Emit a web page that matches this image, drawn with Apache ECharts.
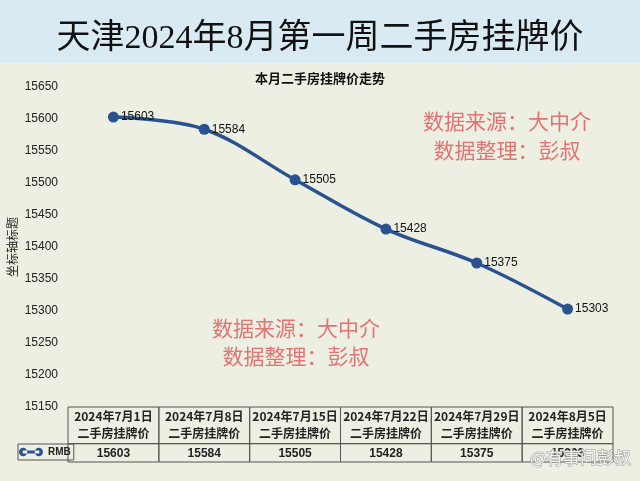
<!DOCTYPE html>
<html><head><meta charset="utf-8">
<script src="https://cdn.jsdelivr.net/npm/echarts@6/dist/echarts.min.js"></script>
<style>html,body{margin:0;padding:0;background:#ecefe1}#c{width:640px;height:481px}</style>
</head><body><div id="c"></div>
<script>
const titleText = '天津2024年8月第一周二手房挂牌价';
const subTitle = '本月二手房挂牌价走势';
const dates = ['2024年7月1日','2024年7月8日','2024年7月15日','2024年7月22日','2024年7月29日','2024年8月5日'];
const rowTitle = '二手房挂牌价';
const prices = [15603, 15584, 15505, 15428, 15375, 15303];
const seriesName = 'RMB';
const yMin = 15150, yMax = 15650, yStep = 50;
const yAxisTitle = '坐标轴标题';
const noteLine1 = '数据来源：大中介';
const noteLine2 = '数据整理：彭叔';
const watermark = '@有事问彭叔';

const CJK = '"Noto Sans CJK SC","Noto Sans",sans-serif';
const LAT = '"Liberation Sans",Arial,sans-serif';
const chart = echarts.init(document.getElementById('c'));
const lineColor = '#2a5190';

chart.setOption({
  backgroundColor: '#ecefe1',
  animation: false,
  graphic: [
    {type:'rect', left:0, top:0, shape:{width:640, height:63}, style:{fill:'#d9eaf2'}, z:-1},
    {type:'text', left:'center', top:22, style:{text:titleText, font:'34px "Liberation Serif","Noto Sans CJK SC",serif', fill:'#111'}},
    {type:'text', left:'center', top:72, style:{text:subTitle, font:'bold 13px ' + CJK, fill:'#111'}},
    {type:'text', x:507, y:121, style:{text:noteLine1, font:'21px ' + CJK, fill:'#e27373', align:'center', verticalAlign:'middle'}},
    {type:'text', x:507, y:150, style:{text:noteLine2, font:'21px ' + CJK, fill:'#e27373', align:'center', verticalAlign:'middle'}},
    {type:'text', x:296, y:328, style:{text:noteLine1, font:'21px ' + CJK, fill:'#e27373', align:'center', verticalAlign:'middle'}},
    {type:'text', x:296, y:356, style:{text:noteLine2, font:'21px ' + CJK, fill:'#e27373', align:'center', verticalAlign:'middle'}},
    {type:'text', x:530, y:458, z:100, style:{text:watermark, font:'17px ' + CJK, fill:'rgba(255,255,255,0.85)', stroke:'#9a9a9a', lineWidth:1, verticalAlign:'middle'}}
  ],
  legend: {
    data:[{name:seriesName, icon:'path://M0,4.5 a4.5,4.5 0 1,0 9,0 a4.5,4.5 0 1,0 -9,0 Z M17,4.5 a4.5,4.5 0 1,0 9,0 a4.5,4.5 0 1,0 -9,0 Z M4,3 L22,3 L22,6 L4,6 Z'}],
    left: 18, top: 444,
    itemWidth: 24, itemHeight: 9,
    padding: [3, 3, 3, 1],
    borderColor: '#555', borderWidth: 1, borderRadius: 0,
    textStyle: {fontSize: 10, fontWeight: 'bold', color: '#222', fontFamily: LAT}
  },
  grid: [
    {left: 68, right: 27, top: 87, height: 320, outerBoundsMode: 'none', containLabel: false},
    {left: 68, right: 27, top: 407, height: 55, outerBoundsMode: 'none', containLabel: false}
  ],
  xAxis: [
    {type:'category', data: dates, gridIndex:0, boundaryGap:true, show:false},
    {type:'category', data: dates, gridIndex:1, boundaryGap:true, show:false}
  ],
  yAxis: [
    {type:'value', gridIndex:0, min:yMin, max:yMax, interval:yStep,
     name: yAxisTitle, nameLocation:'middle', nameGap:50, nameRotate:90, nameMoveOverlap:false,
     nameTextStyle:{fontSize:12, color:'#222', fontFamily: CJK},
     axisLine:{show:false}, axisTick:{show:false}, splitLine:{show:false},
     axisLabel:{fontSize:12, color:'#222', margin:10, fontFamily:LAT, formatter: v => String(v)}},
    {type:'value', gridIndex:1, min:0, max:3, show:false, splitLine:{show:false}}
  ],
  series: [
    {
      name: seriesName, type:'line', xAxisIndex:0, yAxisIndex:0,
      data: prices, smooth: 0.35,
      symbol:'circle', symbolSize:11,
      lineStyle:{color:lineColor, width:3.5},
      itemStyle:{color:lineColor},
      label:{show:true, position:'right', distance:2, fontSize:12, color:'#111', fontFamily:LAT}
    },
    {
      name: 'table', type:'custom', xAxisIndex:1, yAxisIndex:1, clip:false,
      data: prices.map((p, i) => [i, p]),
      renderItem: function(params, api) {
        const i = api.value(0);
        const p0 = api.coord([i, 0]);
        const p1 = api.coord([i, 1]);
        const p3 = api.coord([i, 3]);
        const w = api.size([1, 0])[0];
        const x = p0[0] - w / 2;
        return {type:'group', children:[
          {type:'rect', shape:{x:x, y:p3[1], width:w, height:p1[1]-p3[1]}, style:{fill:'none', stroke:'#555', lineWidth:1}},
          {type:'rect', shape:{x:x, y:p1[1], width:w, height:p0[1]-p1[1]}, style:{fill:'none', stroke:'#555', lineWidth:1}},
          {type:'text', style:{text: dates[i] + '\n' + rowTitle, x:p0[0], y:(p1[1]+p3[1])/2, align:'center', verticalAlign:'middle', font:'bold 12px ' + CJK, lineHeight:17, fill:'#222'}},
          {type:'text', style:{text: String(api.value(1)), x:p0[0], y:(p0[1]+p1[1])/2 + 1, align:'center', verticalAlign:'middle', font:'bold 12px ' + LAT, fill:'#222'}}
        ]};
      }
    }
  ]
});
</script></body></html>
